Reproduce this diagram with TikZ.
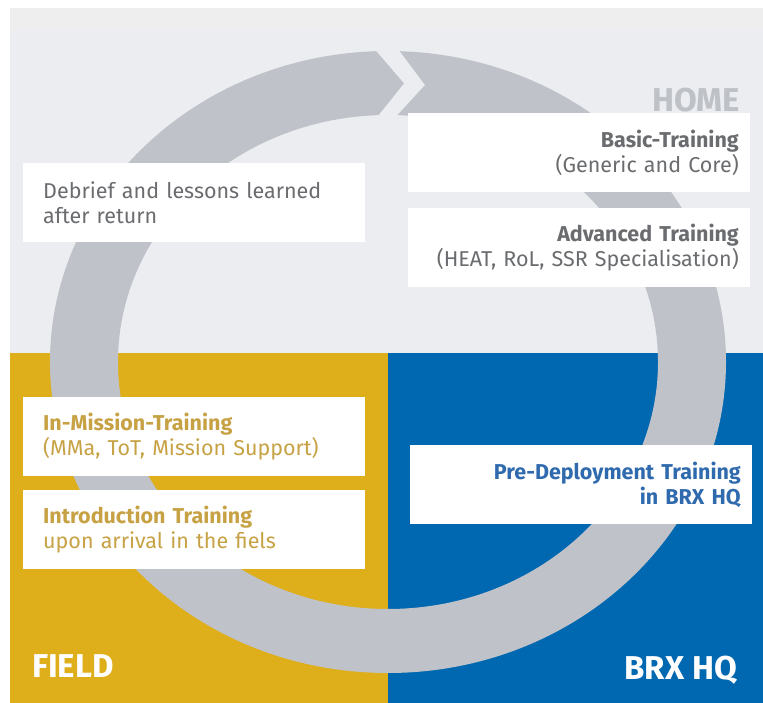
\documentclass[tikz,border=0pt]{standalone}
\usepackage{fontspec}
\setmainfont{Fira Sans}
\usetikzlibrary{calc}
\definecolor{homegray}{HTML}{EBEDF0}
\definecolor{topband}{HTML}{EEEEEE}
\definecolor{ringgray}{HTML}{BFC3C9}
\definecolor{fieldgold}{HTML}{DEAE1B}
\definecolor{hqblue}{HTML}{0067B1}
\definecolor{textgray}{HTML}{6A6C6F}
\definecolor{goldtext}{HTML}{C7A244}
\definecolor{bluetext}{HTML}{306AAE}
\definecolor{homelabel}{HTML}{BEC1C6}
\tikzset{%
  infobox/.style = {fill=white, minimum height=79pt, inner ysep=0pt,%
                    font=\fontsize{21.5}{24.5}\selectfont, text=textgray},%
  lbox/.style    = {infobox, anchor=north west, text width=302pt,%
                    inner xsep=20pt, align=left},%
  rbox/.style    = {infobox, anchor=north east, text width=320pt,%
                    inner xsep=11pt, align=right},%
  zone/.style    = {inner sep=0pt, font=\fontsize{33}{33}\selectfont\bfseries}%
}

\begin{document}
\begin{tikzpicture}[x=1pt,y=1pt]
	\useasboundingbox (0,0) rectangle (763,703);
	% the three zones
	\fill[homegray] (10,350) rectangle (763,695);
	\fill[topband] (10,673) rectangle (763,695);
	\fill[fieldgold] (10,0) rectangle (388,350);
	\fill[hqblue] (388,0) rectangle (763,350);
	% ring arrow, clockwise
	\coordinate (c) at (388,341);
	\fill[ringgray] ($(c)+(88:338pt and 311pt)$)
		arc[start angle=88, end angle=-268, x radius=338pt, y radius=311pt]
		-- ($(c)+(-273:304pt and 279pt)$)
		-- ($(c)+(-268:270pt and 247pt)$)
		arc[start angle=-268, end angle=88, x radius=270pt, y radius=247pt]
		-- ($(c)+(83:304pt and 279pt)$) -- cycle;
	% boxes
	\node[rbox] (basic) at (750,590) {\textbf{Basic-Training}\\(Generic and Core)};
	\node[rbox] (advanced) at (750,495) {\textbf{Advanced Training}\\(HEAT, RoL, SSR Specialisation)};
	\node[lbox] (debrief) at (23,540) {Debrief and lessons learned\\after return};
	\node[lbox, text=goldtext] (inmission) at (23,306) {\textbf{In-Mission-Training}\\(MMa, ToT, Mission Support)};
	\node[lbox, text=goldtext] (intro) at (23,213) {\textbf{Introduction Training}\\upon arrival in the fiels};
	\node[rbox, text=bluetext, font=\fontsize{21.5}{24.5}\selectfont\bfseries] (predeploy) at (752,258) {Pre-Deployment Training\\in BRX HQ};
	% zone labels
	\node[zone, text=homelabel, anchor=base east] (home) at (740,591) {HOME};
	\node[zone, text=white, anchor=base west] (field) at (32,25) {FIELD};
	\node[zone, text=white, anchor=base east] (hq) at (737,23) {BRX HQ};
\end{tikzpicture}
\end{document}
